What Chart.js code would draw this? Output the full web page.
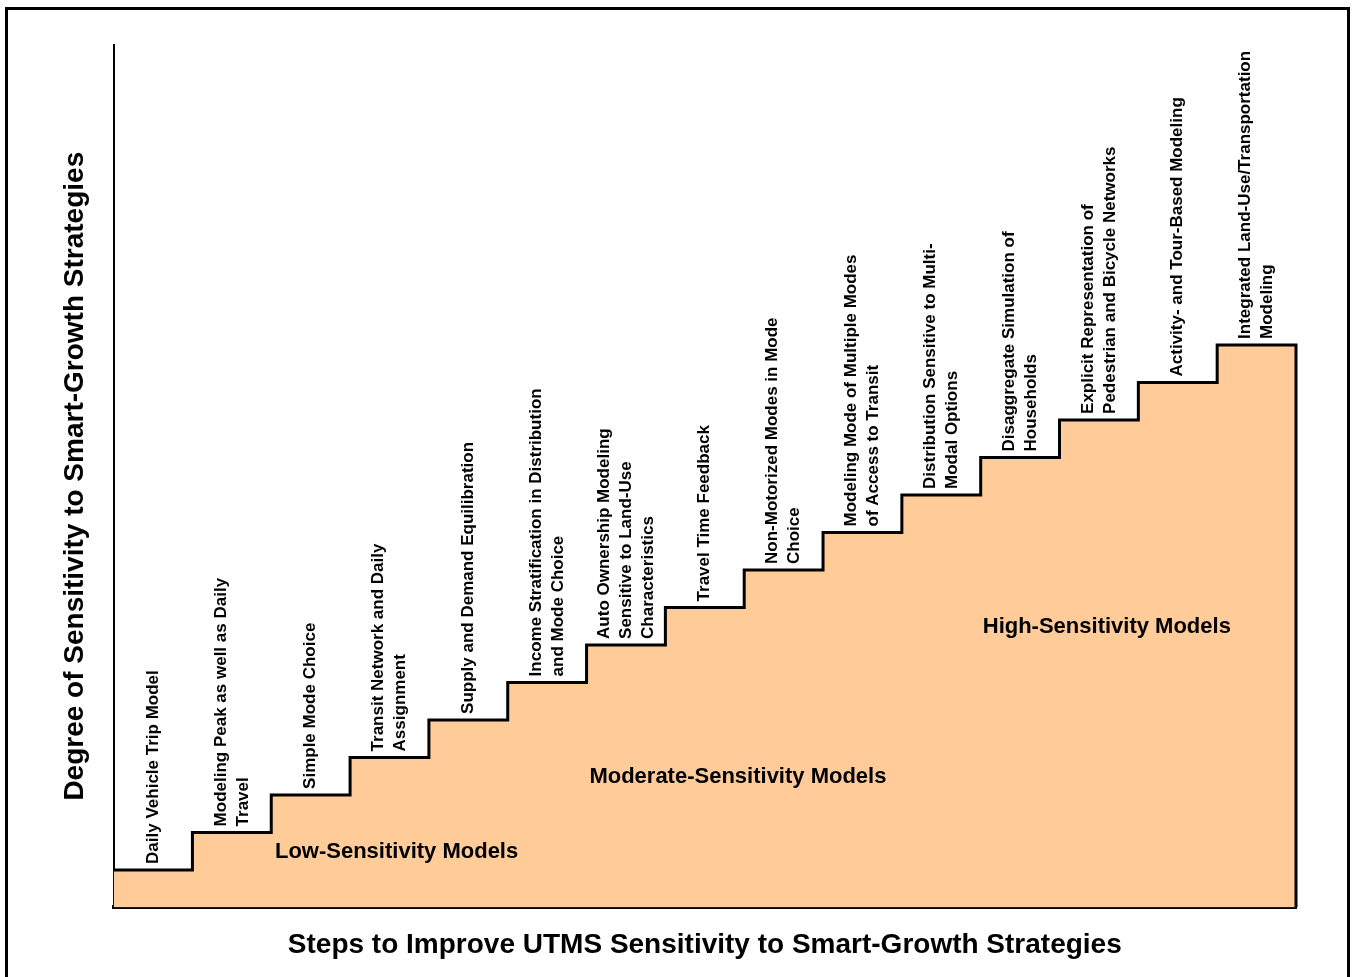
<!DOCTYPE html>
<html>
<head>
<meta charset="utf-8">
<script src="https://cdn.jsdelivr.net/npm/chart.js@4"></script>
<style>
  body { margin: 0; background: #fff; }
  #wrap { position: relative; width: 1354px; height: 977px; overflow: hidden; }
  #frame { position: absolute; left: 5px; top: 7px; width: 1339px; height: 1000px; border: 3px solid #000; pointer-events: none; }
</style>
</head>
<body>
<div id="wrap">
  <canvas id="stairs" width="1354" height="977"></canvas>
  <div id="frame"></div>
</div>
<script>
// one step per modelling improvement, level = height of the step
const stepLevels = [1, 2, 3, 4, 5, 6, 7, 8, 9, 10, 11, 12, 13, 14, 15];
const stepLabels = [
  ["Daily Vehicle Trip Model"],
  ["Modeling Peak as well as Daily", "Travel"],
  ["Simple Mode Choice"],
  ["Transit Network and Daily", "Assignment"],
  ["Supply and Demand Equilibration"],
  ["Income Stratification in Distribution", "and Mode Choice"],
  ["Auto Ownership Modeling", "Sensitive to Land-Use", "Characteristics"],
  ["Travel Time Feedback"],
  ["Non-Motorized Modes in Mode", "Choice"],
  ["Modeling Mode of Multiple Modes", "of Access to Transit"],
  ["Distribution Sensitive to Multi-", "Modal Options"],
  ["Disaggregate Simulation of", "Households"],
  ["Explicit Representation of", "Pedestrian and Bicycle Networks"],
  ["Activity- and Tour-Based Modeling"],
  ["Integrated Land-Use/Transportation", "Modeling"]
];
const regionNames = ["Low-Sensitivity Models", "Moderate-Sensitivity Models", "High-Sensitivity Models"];
const xTitle = "Steps to Improve UTMS Sensitivity to Smart-Growth Strategies";
const yTitle = "Degree of Sensitivity to Smart-Growth Strategies";
const yMax = 23;

const FONT = "'Liberation Sans', Arial, sans-serif";

// staircase outline: step tops, then down the right side
const stairPoints = stepLevels.map((v, i) => ({x: i, y: v}));
stairPoints.push({x: stepLevels.length, y: stepLevels[stepLevels.length - 1]});
stairPoints.push({x: stepLevels.length, y: 0});

const stepText = {
  id: 'stepText',
  afterDatasetsDraw(chart, args, opts) {
    const ctx = chart.ctx;
    const xs = chart.scales.x, ys = chart.scales.y;
    ctx.save();
    ctx.fillStyle = '#000';

    // rotated labels above each step
    ctx.font = 'bold 17px ' + FONT;
    ctx.textAlign = 'left';
    ctx.textBaseline = 'middle';
    stepLabels.forEach((lines, i) => {
      const cx = xs.getPixelForValue(i + 0.5);
      const top = ys.getPixelForValue(stepLevels[i]);
      ctx.save();
      ctx.translate(cx, top - 6);
      ctx.rotate(-Math.PI / 2);
      lines.forEach((ln, j) => {
        ctx.fillText(ln, 0, (j - (lines.length - 1) / 2) * 22);
      });
      ctx.restore();
    });

    // region names inside the fill
    ctx.font = 'bold 22px ' + FONT;
    ctx.textAlign = 'center';
    regionNames.forEach((name, i) => {
      const a = opts.anchors[i];
      ctx.fillText(name, xs.getPixelForValue(a[0]), ys.getPixelForValue(a[1]));
    });
    ctx.restore();
  }
};

new Chart('stairs', {
  type: 'line',
  data: {
    datasets: [{
      data: stairPoints,
      stepped: true,
      fill: 'origin',
      backgroundColor: '#FFCC99',
      borderColor: '#000',
      borderWidth: 3,
      borderJoinStyle: 'miter',
      pointRadius: 0,
      clip: 4
    }]
  },
  options: {
    responsive: false,
    animation: false,
    layout: {padding: {left: 58, right: 58, top: 45, bottom: 15}},
    plugins: {
      legend: {display: false},
      tooltip: {enabled: false},
      stepText: {anchors: [[3.59, 1.47], [7.92, 3.47], [12.6, 7.47]]}
    },
    scales: {
      x: {
        type: 'linear', min: 0, max: stepLevels.length,
        ticks: {display: false},
        grid: {display: false},
        border: {display: true, color: '#000', width: 4},
        title: {display: true, text: xTitle, color: '#000',
          font: {family: FONT, size: 28, weight: 'bold'}, padding: {top: 13, bottom: 0}}
      },
      y: {
        min: 0, max: yMax,
        ticks: {display: false},
        grid: {display: false},
        border: {display: true, color: '#000', width: 2},
        title: {display: true, text: yTitle, color: '#000',
          font: {family: FONT, size: 28, weight: 'bold'}, padding: {top: 0, bottom: 14}}
      }
    }
  },
  plugins: [stepText]
});
</script>
</body>
</html>
